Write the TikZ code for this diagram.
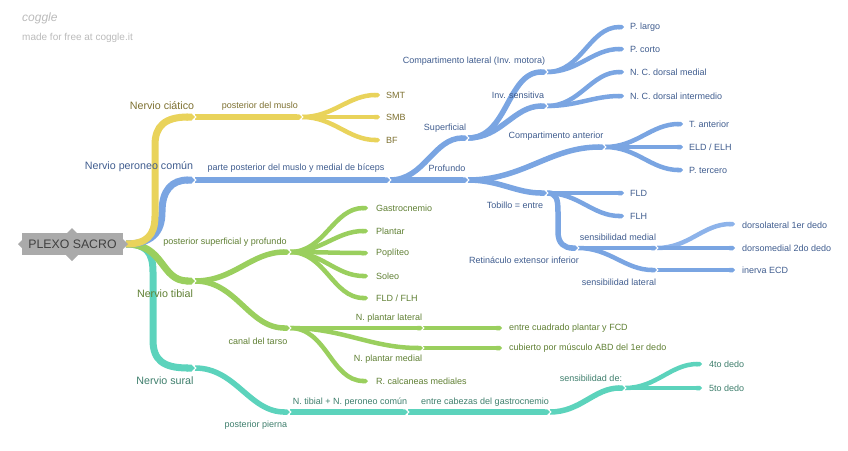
\documentclass[tikz,border=0pt]{standalone}
\usepackage{fontspec}
\setmainfont{Liberation Sans}
\usetikzlibrary{arrows.meta}
\definecolor{ylw}{HTML}{E9D35B}
\definecolor{ylwt}{HTML}{7D7030}
\definecolor{blu}{HTML}{7AA5E2}
\definecolor{blul}{HTML}{8DB3EA}
\definecolor{blut}{HTML}{3F5C8E}
\definecolor{grn}{HTML}{9ACF5E}
\definecolor{grnt}{HTML}{5F7F33}
\definecolor{tea}{HTML}{5CD3BC}
\definecolor{teat}{HTML}{3E7E6C}
\definecolor{rootc}{HTML}{AAAAAA}
\definecolor{logoc}{HTML}{BBBBBB}
\begin{document}
\begin{tikzpicture}[x=1pt,y=-1pt,
  br/.style={line width=#1, -{Triangle Cap[]}},
  trunk/.style={br=7pt},
  mid/.style={br=5.5pt},
  leaf/.style={br=4.5pt},
  lab/.style={inner sep=0pt, font=\fontsize{9}{10}\selectfont},
  big/.style={inner sep=0pt, font=\fontsize{10.7}{12}\selectfont},
  notch/.pic={\draw[white, line width=0.9pt] (-2.5,-3.5) -- (1,0) -- (-2.5,3.5);},
]
\useasboundingbox (0,0) rectangle (848,450);

% header
\node[anchor=west, inner sep=0pt, text=logoc, font=\fontsize{12}{14}\itshape] (logo) at (22,18) {coggle};
\node[anchor=west, inner sep=0pt, text=logoc, font=\fontsize{10}{12}\selectfont] (made) at (22,38) {made for free at coggle.it};

% coordinates
\coordinate (o) at (126,244);
% yellow
\coordinate (c1) at (195,117); \coordinate (c2) at (302,117);
\coordinate (smt) at (380,95); \coordinate (smb) at (380,117); \coordinate (bf) at (380,140);
% blue
\coordinate (p1) at (195,180); \coordinate (p2) at (390,180);
\coordinate (sup) at (468,138); \coordinate (cl) at (547,72); \coordinate (inv) at (547,106);
\coordinate (plargo) at (624,27); \coordinate (pcorto) at (624,49);
\coordinate (ncm) at (624,72); \coordinate (nci) at (624,96);
\coordinate (prof) at (468,180); \coordinate (ca) at (605,147);
\coordinate (tant) at (683,124); \coordinate (eld) at (683,147); \coordinate (pter) at (683,170);
\coordinate (tob) at (547,193); \coordinate (fld) at (624,193); \coordinate (flh) at (624,216);
\coordinate (ret) at (578,248); \coordinate (sm) at (657,248); \coordinate (sl) at (657,270);
\coordinate (dl) at (735,224); \coordinate (dm) at (735,248); \coordinate (ecd) at (735,270);
% green
\coordinate (t1) at (195,281); \coordinate (psp) at (290,252);
\coordinate (gas) at (368,208); \coordinate (pla) at (368,231); \coordinate (pop) at (368,253);
\coordinate (sol) at (368,276); \coordinate (ff) at (368,298);
\coordinate (ct) at (290,328); \coordinate (npl) at (423,328); \coordinate (npm) at (423,348);
\coordinate (ecp) at (502,328); \coordinate (cub) at (502,348); \coordinate (rcm) at (368,381);
% teal
\coordinate (s1) at (195,368); \coordinate (pp) at (290,412); \coordinate (nt) at (408,412);
\coordinate (ec) at (550,412); \coordinate (sd) at (625,388);
\coordinate (d4) at (702,364); \coordinate (d5) at (702,388);

% ---------- teal ----------
\draw[trunk, draw=tea] (o) .. controls (146,244) and (153,252) .. (153,272) -- (153,340) .. controls (153,360) and (163,368) .. (s1);
\draw[mid, draw=tea] (s1) to[out=0,in=180] (pp);
\draw[mid, draw=tea] (pp) -- (nt);
\draw[mid, draw=tea] (nt) -- (ec);
\draw[mid, draw=tea] (ec) to[out=0,in=180] (sd);
\draw[leaf, draw=tea] (sd) to[out=0,in=180] (d4);
\draw[leaf, draw=tea] (sd) -- (d5);

% ---------- green ----------
\draw[trunk, draw=grn] (o) .. controls (165,244) and (160,281) .. (t1);
\draw[mid, draw=grn] (t1) to[out=0,in=180] (psp);
\draw[mid, draw=grn] (t1) to[out=0,in=180] (ct);
\foreach \l in {gas,pla,pop,sol,ff} \draw[leaf, draw=grn] (psp) to[out=0,in=180] (\l);
\draw[leaf, draw=grn] (ct) -- (npl);
\draw[leaf, draw=grn] (ct) to[out=0,in=180] (npm);
\draw[leaf, draw=grn] (ct) to[out=0,in=180] (rcm);
\draw[leaf, draw=grn] (npl) -- (ecp);
\draw[leaf, draw=grn] (npm) -- (cub);

% ---------- blue ----------
\draw[trunk, draw=blu] (o) .. controls (152,244) and (162,232) .. (162,212) .. controls (162,190) and (172,180) .. (p1);
\draw[mid, draw=blu] (p1) -- (p2);
\draw[mid, draw=blu] (p2) to[out=0,in=180] (sup);
\draw[mid, draw=blu] (p2) -- (prof);
\draw[mid, draw=blu] (sup) to[out=0,in=180] (cl);
\draw[mid, draw=blu] (sup) to[out=0,in=180] (inv);
\draw[leaf, draw=blu] (cl) to[out=0,in=180] (plargo);
\draw[leaf, draw=blu] (cl) to[out=0,in=180] (pcorto);
\draw[leaf, draw=blu] (inv) to[out=0,in=180] (ncm);
\draw[leaf, draw=blu] (inv) to[out=0,in=180] (nci);
\draw[mid, draw=blu] (prof) to[out=0,in=180] (ca);
\draw[mid, draw=blu] (prof) to[out=0,in=180] (tob);
\draw[leaf, draw=blu] (ca) to[out=0,in=180] (tant);
\draw[leaf, draw=blu] (ca) -- (eld);
\draw[leaf, draw=blu] (ca) to[out=0,in=180] (pter);
\draw[leaf, draw=blu] (tob) -- (fld);
\draw[leaf, draw=blu] (tob) to[out=0,in=180] (flh);
\draw[mid, draw=blu] (tob) .. controls (556,193) and (558,198) .. (558,212) -- (558,232) .. controls (558,244) and (565,248) .. (ret);
\draw[leaf, draw=blu] (ret) -- (sm);
\draw[leaf, draw=blu] (ret) to[out=0,in=180] (sl);
\draw[leaf, draw=blul] (sm) to[out=0,in=180] (dl);
\draw[leaf, draw=blu] (sm) -- (dm);
\draw[leaf, draw=blu] (sl) -- (ecd);

% ---------- yellow ----------
\draw[trunk, draw=ylw] (o) .. controls (146,244) and (155,236) .. (155,216) -- (155,145) .. controls (155,126) and (165,117) .. (c1);
\draw[mid, draw=ylw] (c1) -- (c2);
\draw[leaf, draw=ylw] (c2) to[out=0,in=180] (smt);
\draw[leaf, draw=ylw] (c2) -- (smb);
\draw[leaf, draw=ylw] (c2) to[out=0,in=180] (bf);

% notches at joints
\foreach \j in {c1,c2,p1,p2,sup,cl,inv,prof,ca,tob,ret,sm,sl,t1,psp,ct,npl,npm,s1,pp,nt,ec,sd}
  \pic at (\j) {notch};

% root
\fill[rootc] (18,244) -- (24,238) -- (24,250) -- cycle;
\fill[rootc] (128,244) -- (122,238) -- (122,250) -- cycle;
\fill[rootc] (72,228) -- (66,234) -- (78,234) -- cycle;
\fill[rootc] (72,261) -- (66,255) -- (78,255) -- cycle;
\node[fill=rootc, minimum width=101pt, minimum height=22pt, inner sep=0pt,
      font=\fontsize{12.3}{14}\selectfont, text=black!75] (root) at (72.5,244) {PLEXO SACRO};

% ---------- labels yellow ----------
\node[big, text=ylwt] (lc1) at (162,106) {Nervio ciático};
\node[lab, text=ylwt] (lc2) at (260,106) {posterior del muslo};
\node[lab, text=ylwt, anchor=west] (lsmt) at (386,95) {SMT};
\node[lab, text=ylwt, anchor=west] (lsmb) at (386,117) {SMB};
\node[lab, text=ylwt, anchor=west] (lbf) at (386,140) {BF};

% ---------- labels blue ----------
\node[big, text=blut] (lp1) at (139,167) {Nervio peroneo común};
\node[lab, text=blut] (lp2) at (296,168) {parte posterior del muslo y medial de bíceps};
\node[lab, text=blut] (lsup) at (445,128) {Superficial};
\node[lab, text=blut] (lcl) at (474,61) {Compartimento lateral (Inv. motora)};
\node[lab, text=blut] (linv) at (518,95) {Inv. sensitiva};
\node[lab, text=blut, anchor=west] (lplargo) at (630,27) {P. largo};
\node[lab, text=blut, anchor=west] (lpcorto) at (630,49) {P. corto};
\node[lab, text=blut, anchor=west] (lncm) at (630,72) {N. C. dorsal medial};
\node[lab, text=blut, anchor=west] (lnci) at (630,96) {N. C. dorsal intermedio};
\node[lab, text=blut] (lprof) at (447,168) {Profundo};
\node[lab, text=blut] (lca) at (556,136) {Compartimento anterior};
\node[lab, text=blut, anchor=west] (ltant) at (689,124) {T. anterior};
\node[lab, text=blut, anchor=west] (leld) at (689,147) {ELD / ELH};
\node[lab, text=blut, anchor=west] (lpter) at (689,170) {P. tercero};
\node[lab, text=blut] (ltob) at (515,205) {Tobillo = entre};
\node[lab, text=blut, anchor=west] (lfld) at (630,193) {FLD};
\node[lab, text=blut, anchor=west] (lflh) at (630,216) {FLH};
\node[lab, text=blut] (lret) at (524,260) {Retináculo extensor inferior};
\node[lab, text=blut] (lsm) at (618,237) {sensibilidad medial};
\node[lab, text=blut] (lsl) at (619,282) {sensibilidad lateral};
\node[lab, text=blut, anchor=west] (ldl) at (742,225) {dorsolateral 1er dedo};
\node[lab, text=blut, anchor=west] (ldm) at (742,248) {dorsomedial 2do dedo};
\node[lab, text=blut, anchor=west] (lecd) at (742,270) {inerva ECD};

% ---------- labels green ----------
\node[big, text=grnt] (lt1) at (165,294) {Nervio tibial};
\node[lab, text=grnt] (lpsp) at (225,242) {posterior superficial y profundo};
\node[lab, text=grnt, anchor=west] (lgas) at (376,208) {Gastrocnemio};
\node[lab, text=grnt, anchor=west] (lpla) at (376,231) {Plantar};
\node[lab, text=grnt, anchor=west] (lpop) at (376,253) {Poplíteo};
\node[lab, text=grnt, anchor=west] (lsol) at (376,276) {Soleo};
\node[lab, text=grnt, anchor=west] (lff) at (376,298) {FLD / FLH};
\node[lab, text=grnt] (lct) at (258,341) {canal del tarso};
\node[lab, text=grnt] (lnpl) at (389,318) {N. plantar lateral};
\node[lab, text=grnt] (lnpm) at (388,359) {N. plantar medial};
\node[lab, text=grnt, anchor=west] (lecp) at (509,328) {entre cuadrado plantar y FCD};
\node[lab, text=grnt, anchor=west] (lcub) at (509,348) {cubierto por músculo ABD del 1er dedo};
\node[lab, text=grnt, anchor=west] (lrcm) at (376,381) {R. calcaneas mediales};

% ---------- labels teal ----------
\node[big, text=teat] (ls1) at (165,381) {Nervio sural};
\node[lab, text=teat] (lpp) at (256,425) {posterior pierna};
\node[lab, text=teat] (lnt) at (350,402) {N. tibial + N. peroneo común};
\node[lab, text=teat] (lec) at (485,402) {entre cabezas del gastrocnemio};
\node[lab, text=teat] (lsd) at (591,378) {sensibilidad de:};
\node[lab, text=teat, anchor=west] (ld4) at (709,364) {4to dedo};
\node[lab, text=teat, anchor=west] (ld5) at (709,388) {5to dedo};
\end{tikzpicture}
\end{document}
